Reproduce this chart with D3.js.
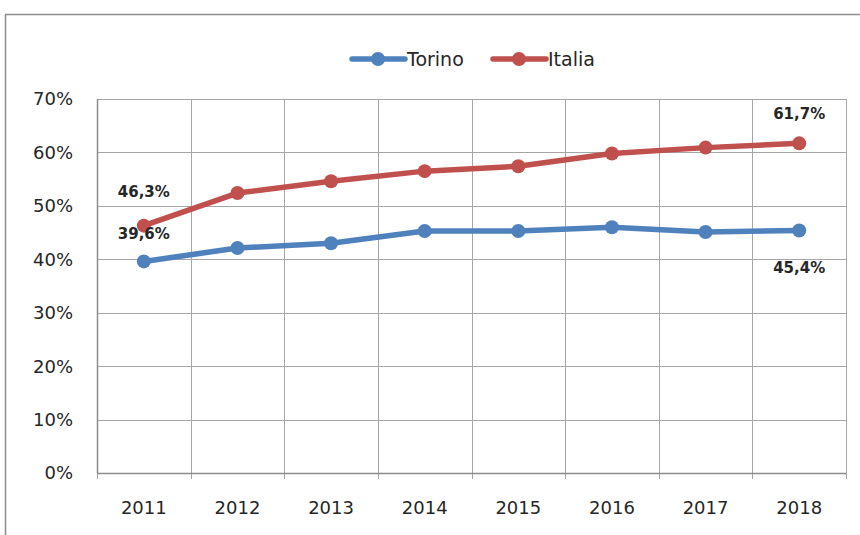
<!DOCTYPE html>
<html>
<head>
<meta charset="utf-8">
<script src="https://cdn.jsdelivr.net/npm/d3@7"></script>
<style>
  body { margin: 0; background: #fff; }
  svg { display: block; font-family: "DejaVu Sans", Verdana, sans-serif; }
</style>
</head>
<body>
<svg id="chart" width="860" height="535"></svg>
<script>
const years  = ["2011","2012","2013","2014","2015","2016","2017","2018"];
const torino = [39.6, 42.1, 43.0, 45.3, 45.3, 46.0, 45.1, 45.4];
const italia = [46.3, 52.4, 54.6, 56.5, 57.4, 59.8, 60.9, 61.7];
const yTicks = [0, 10, 20, 30, 40, 50, 60, 70];
const series = [
    { name: "Torino", values: torino, color: "#4f81bd" },
    { name: "Italia", values: italia, color: "#c0504d" }
];
// labels shown only on first and last points
const labels = [
    { s: 0, i: 0, dy: -22 }, { s: 0, i: 7, dy: 43 },
    { s: 1, i: 0, dy: -29 }, { s: 1, i: 7, dy: -24 }
];

const svg = d3.select("#chart");
const pLeft = 97, pRight = 846, pTop = 99, pBottom = 473;

// outer frame
svg.append("rect")
    .attr("x", 5.5).attr("y", 14.5).attr("width", 900).attr("height", 600)
    .attr("fill", "white").attr("stroke", "#8c8c8c").attr("stroke-width", 1.5);

const x = d3.scaleBand().domain(years).range([pLeft, pRight]);
const y = d3.scaleLinear().domain([0, 70]).range([pBottom, pTop]);

// horizontal grid
svg.append("g").selectAll("line").data(yTicks).enter().append("line")
    .attr("x1", pLeft).attr("x2", pRight)
    .attr("y1", d => Math.round(y(d)) + 0.5).attr("y2", d => Math.round(y(d)) + 0.5)
    .attr("stroke", "#a6a6a6").attr("stroke-width", 1);

// vertical grid incl. tick marks below axis
const xEdges = years.map(d => x(d)).concat([pRight]);
svg.append("g").selectAll("line").data(xEdges).enter().append("line")
    .attr("x1", d => Math.round(d) + 0.5).attr("x2", d => Math.round(d) + 0.5)
    .attr("y1", pTop).attr("y2", pBottom + 6)
    .attr("stroke", "#a6a6a6").attr("stroke-width", 1);

// axis lines slightly darker
svg.append("line").attr("x1", pLeft).attr("x2", pRight)
    .attr("y1", pBottom + 0.5).attr("y2", pBottom + 0.5)
    .attr("stroke", "#8c8c8c").attr("stroke-width", 1.5);
svg.append("line").attr("x1", pLeft + 0.5).attr("x2", pLeft + 0.5)
    .attr("y1", pTop).attr("y2", pBottom)
    .attr("stroke", "#8c8c8c").attr("stroke-width", 1.5);

// y tick labels
svg.append("g").selectAll("text").data(yTicks).enter().append("text")
    .attr("x", 73).attr("y", d => y(d)).attr("dy", "0.36em")
    .attr("text-anchor", "end").attr("font-size", 18).attr("fill", "#262626")
    .text(d => d + "%");

// x tick labels
svg.append("g").selectAll("text").data(years).enter().append("text")
    .attr("x", d => x(d) + x.bandwidth() / 2).attr("y", 514)
    .attr("text-anchor", "middle").attr("font-size", 18).attr("fill", "#262626")
    .text(d => d);

const line = d3.line()
    .x((d, i) => x(years[i]) + x.bandwidth() / 2)
    .y(d => y(d));

series.forEach(s => {
    const g = svg.append("g");
    g.append("path").datum(s.values)
        .attr("d", line).attr("fill", "none")
        .attr("stroke", s.color).attr("stroke-width", 5.5)
        .attr("stroke-linejoin", "round");
    g.selectAll("circle").data(s.values).enter().append("circle")
        .attr("cx", (d, i) => x(years[i]) + x.bandwidth() / 2)
        .attr("cy", d => y(d)).attr("r", 7)
        .attr("fill", s.color);
});

// data labels
svg.append("g").selectAll("text").data(labels).enter().append("text")
    .attr("x", d => x(years[d.i]) + x.bandwidth() / 2)
    .attr("y", d => y(series[d.s].values[d.i]) + d.dy)
    .attr("text-anchor", "middle").attr("font-size", 15).attr("font-weight", "bold")
    .attr("fill", "#262626")
    .text(d => series[d.s].values[d.i].toFixed(1).replace(".", ",") + "%");

// legend
const legendX = [352, 493];
series.forEach((s, k) => {
    const g = svg.append("g").attr("transform", `translate(${legendX[k]},59)`);
    g.append("line").attr("x1", 0).attr("x2", 53).attr("y1", 0).attr("y2", 0)
        .attr("stroke", s.color).attr("stroke-width", 5.5).attr("stroke-linecap", "round");
    g.append("circle").attr("cx", 26).attr("cy", 0).attr("r", 7).attr("fill", s.color);
    g.append("text").attr("x", 55).attr("y", 0).attr("dy", "0.36em")
        .attr("font-size", 19).attr("fill", "#262626").text(s.name);
});
</script>
</body>
</html>
